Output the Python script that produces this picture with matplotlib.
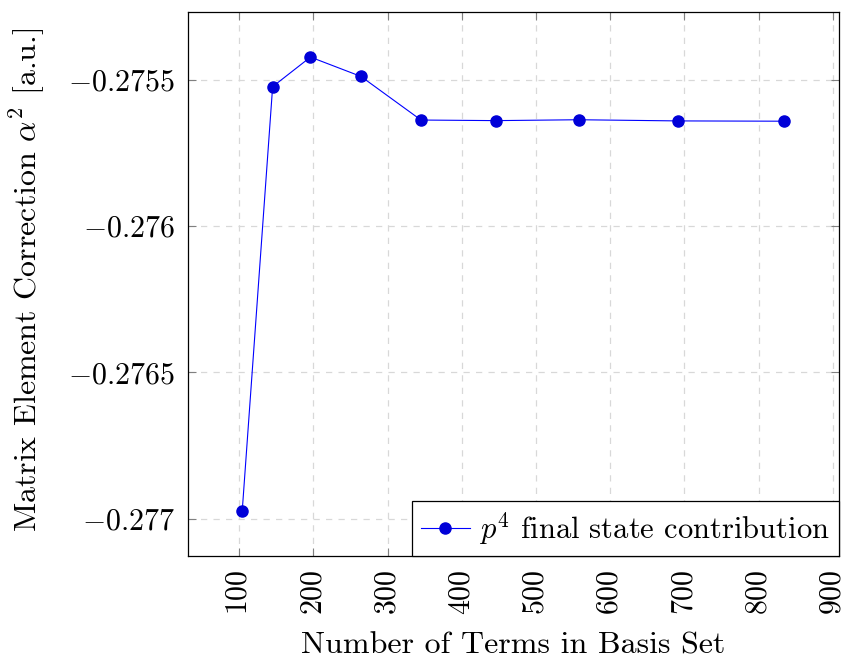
import matplotlib
matplotlib.use("Agg")
import matplotlib.pyplot as plt
from matplotlib.ticker import FixedLocator, FixedFormatter

plt.rcParams['font.family'] = ['cmr10', 'DejaVu Serif']
plt.rcParams['mathtext.fontset'] = 'cm'
plt.rcParams['axes.unicode_minus'] = False

n_terms = [104, 145, 196, 264, 345, 446, 558, 691, 835]
correction = [-0.276973, -0.275524, -0.275423, -0.275489, -0.275638,
              -0.275640, -0.275637, -0.275641, -0.275642]
x_ticks = [100, 200, 300, 400, 500, 600, 700, 800, 900]
y_ticks = [-0.2755, -0.276, -0.2765, -0.277]
y_tick_labels = [r'$-0.2755$', r'$-0.276$', r'$-0.2765$', r'$-0.277$']
series_label = r'$p^4$ final state contribution'

fig = plt.figure(figsize=(8.48, 6.61), dpi=100)
ax = fig.add_axes([188/848, 1-556.3/661, 650.7/848, 544.6/661])

ax.plot(n_terms, correction, color='blue', lw=0.8, marker='o', markersize=8,
        markerfacecolor='#0000d8', markeredgecolor='#0000d8', label=series_label)

xr = max(n_terms) - min(n_terms)
yr = max(correction) - min(correction)
ax.set_xlim(min(n_terms) - 0.1*xr, max(n_terms) + 0.1*xr)
ax.set_ylim(min(correction) - 0.1*yr, max(correction) + 0.1*yr)

ax.xaxis.set_major_locator(FixedLocator(x_ticks))
ax.xaxis.set_major_formatter(FixedFormatter([f'${v}$' for v in x_ticks]))
ax.yaxis.set_major_locator(FixedLocator(y_ticks))
ax.yaxis.set_major_formatter(FixedFormatter(y_tick_labels))
for lab in ax.get_xticklabels():
    lab.set_rotation(90)

ax.tick_params(direction='in', top=True, right=True, length=6, width=0.8,
               color='#808080', labelsize=21.5, pad=9.5)
ax.grid(True, ls=(0, (5, 5)), color='#d8d8d8', lw=0.9)
ax.set_axisbelow(True)
for sp in ax.spines.values():
    sp.set_linewidth(0.9)

ax.set_xlabel('Number of Terms in Basis Set', fontsize=23)
ax.set_ylabel(r'Matrix Element Correction $\alpha^2$ [a.u.]', fontsize=23)
ax.xaxis.set_label_coords(0.5, -0.179)
ax.xaxis.label.set_va('baseline')
ax.yaxis.set_label_coords(-0.232, 0.507)
ax.yaxis.label.set_va('baseline')

leg = ax.legend(loc='lower right', borderaxespad=0, fancybox=False, framealpha=1,
                edgecolor='black', fontsize=22, handlelength=1.6, handletextpad=0.3,
                borderpad=0.3)
leg.get_frame().set_linewidth(0.9)

fig.savefig('out.png', dpi=100)
